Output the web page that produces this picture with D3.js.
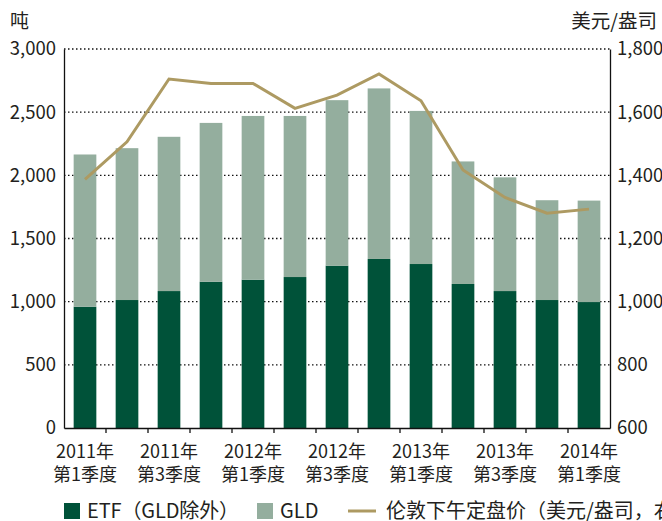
<!DOCTYPE html>
<html>
<head>
<meta charset="utf-8">
<script src="https://cdn.jsdelivr.net/npm/d3@7"></script>
<style>
  body { margin: 0; background: #fff; }
  text { font-family: "Noto Sans CJK SC", "Noto Sans", sans-serif; fill: #231f20; }
</style>
</head>
<body>
<svg id="chart" width="662" height="521"></svg>
<script>
// quarters 2011Q1 .. 2014Q1
var quarters = ["2011Q1","2011Q2","2011Q3","2011Q4","2012Q1","2012Q2","2012Q3","2012Q4","2013Q1","2013Q2","2013Q3","2013Q4","2014Q1"];
var quarterLabels = ["2011年|第1季度","","2011年|第3季度","","2012年|第1季度","","2012年|第3季度","","2013年|第1季度","","2013年|第3季度","","2014年|第1季度"];
var etfExGld = [960, 1013, 1084, 1158, 1174, 1195, 1285, 1338, 1298, 1140, 1084, 1013, 997];
var gld = [1205, 1202, 1221, 1257, 1296, 1275, 1310, 1350, 1212, 970, 900, 790, 803];
var pmFix = [1387, 1506, 1705, 1691, 1691, 1612, 1654, 1721, 1636, 1417, 1330, 1280, 1293];
var leftTicks = [0, 500, 1000, 1500, 2000, 2500, 3000];
var rightTicks = [600, 800, 1000, 1200, 1400, 1600, 1800];

var DARK = "#005239", LIGHT = "#94ae9e", GOLD = "#ad9a62";
var svg = d3.select("#chart");
var mLeft = 64, mRight = 610, mTop = 49, mBottom = 428;

var x = d3.scaleBand().domain(quarters).range([mLeft, mRight]).paddingInner(0.46).paddingOuter(0.23);
var y = d3.scaleLinear().domain([0, 3000]).range([mBottom, mTop]);
var y2 = d3.scaleLinear().domain([600, 1800]).range([mBottom, mTop]);

// dotted grid
svg.append("g").selectAll("line").data(leftTicks.slice(1)).join("line")
  .attr("x1", mLeft).attr("x2", mRight)
  .attr("y1", d => y(d)).attr("y2", d => y(d))
  .attr("stroke", "#111").attr("stroke-width", 1.4).attr("stroke-dasharray", "1.5,2.5");

// stacked bars
var g = svg.append("g");
g.selectAll(".etf").data(quarters).join("rect")
  .attr("x", d => x(d)).attr("width", x.bandwidth())
  .attr("y", (d, i) => y(etfExGld[i])).attr("height", (d, i) => y(0) - y(etfExGld[i]))
  .attr("fill", DARK);
g.selectAll(".gld").data(quarters).join("rect")
  .attr("x", d => x(d)).attr("width", x.bandwidth())
  .attr("y", (d, i) => y(etfExGld[i] + gld[i])).attr("height", (d, i) => y(etfExGld[i]) - y(etfExGld[i] + gld[i]))
  .attr("fill", LIGHT);

// price line
var line = d3.line().x((d, i) => x(quarters[i]) + x.bandwidth() / 2).y(d => y2(d));
svg.append("path").datum(pmFix).attr("d", line)
  .attr("fill", "none").attr("stroke", GOLD).attr("stroke-width", 3);

// axes
var yl = svg.append("g").attr("transform", "translate(" + mLeft + ",0)")
  .call(d3.axisLeft(y).tickValues(leftTicks).tickFormat(d3.format(",")).tickSize(0).tickPadding(8));
var yr = svg.append("g").attr("transform", "translate(" + mRight + ",0)")
  .call(d3.axisRight(y2).tickValues(rightTicks).tickFormat(d3.format(",")).tickSize(0).tickPadding(7));
[yl, yr].forEach(function(a) {
  a.select(".domain").attr("stroke", "#111").attr("stroke-width", 1.3);
  a.selectAll("text").attr("font-size", 18.5).attr("fill", "#231f20").attr("font-family", null);
});

var xa = svg.append("g").attr("transform", "translate(0," + mBottom + ")")
  .call(d3.axisBottom(x).tickSize(0).tickFormat(""));
xa.select(".domain").attr("stroke", "#111").attr("stroke-width", 1.3);
// ticks at band boundaries
var bounds = quarters.slice(1).map(d => x(d) - x.step() * x.paddingInner() / 2);
xa.selectAll(".bt").data(bounds).join("line")
  .attr("x1", d => d).attr("x2", d => d).attr("y1", 0).attr("y2", 5)
  .attr("stroke", "#111").attr("stroke-width", 1.3);
xa.selectAll(".lbl").data(quarters.filter((d, i) => quarterLabels[i])).join("text")
  .attr("text-anchor", "middle").attr("font-size", 18)
  .each(function(d) {
    var parts = quarterLabels[quarters.indexOf(d)].split("|");
    var cx = x(d) + x.bandwidth() / 2;
    d3.select(this).append("tspan").attr("x", cx).attr("y", 30).text(parts[0]);
    d3.select(this).append("tspan").attr("x", cx).attr("y", 53).text(parts[1]);
  });

// axis titles
svg.append("text").attr("x", 10).attr("y", 28).attr("font-size", 19).text("吨");
svg.append("text").attr("x", 657).attr("y", 28).attr("font-size", 19.5).attr("text-anchor", "end").text("美元/盎司");

// legend
var lg = svg.append("g");
lg.append("rect").attr("x", 64).attr("y", 503).attr("width", 16).attr("height", 16).attr("fill", DARK);
lg.append("text").attr("x", 87).attr("y", 518).attr("font-size", 20)
  .attr("textLength", 152).attr("lengthAdjust", "spacing").text("ETF（GLD除外）");
lg.append("rect").attr("x", 257).attr("y", 503).attr("width", 16).attr("height", 16).attr("fill", LIGHT);
lg.append("text").attr("x", 280).attr("y", 518).attr("font-size", 20).text("GLD");
lg.append("line").attr("x1", 348).attr("x2", 376).attr("y1", 511).attr("y2", 511)
  .attr("stroke", GOLD).attr("stroke-width", 3);
lg.append("text").attr("x", 386).attr("y", 518).attr("font-size", 20).text("伦敦下午定盘价（美元/盎司，右轴）");
</script>
</body>
</html>
